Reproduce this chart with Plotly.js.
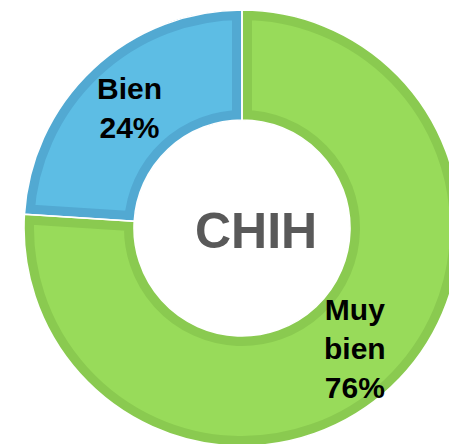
<!DOCTYPE html>
<html>
<head>
<meta charset="utf-8">
<script src="https://cdn.plot.ly/plotly-3.0.1.min.js"></script>
<style>
html,body{margin:0;padding:0;overflow:hidden;background:#fff;width:449px;height:444px;}
#chart{width:470px;height:460px;}
</style>
</head>
<body>
<div id="chart"></div>
<script>
// Data
const labels = ['Muy bien', 'Bien'];
const values = [76, 24];
const centerText = 'CHIH';

// Styles
const lightColors = ['#98DB5A', '#5DBDE4'];
const darkColors = ['#8ACA50', '#52A9D2'];
const W = 470, H = 460;
const cx = 242, cy = 228, R = 218, Rin = 108, band = 10;

function dom(r) {
  return {x: [(cx - r) / W, (cx + r) / W], y: [1 - (cy + r) / H, 1 - (cy - r) / H]};
}

const base = {
  type: 'pie', labels: labels, values: values, sort: false,
  direction: 'clockwise', rotation: 0,
  textinfo: 'none', hoverinfo: 'label+percent', showlegend: false,
  domain: dom(R), hole: Rin / R
};

const traces = [
  // fallback layers (visible if clipping unsupported): dark ring + inset light ring
  Object.assign({}, base, {marker: {colors: darkColors, line: {width: 0}}}),
  Object.assign({}, base, {domain: dom(R - band), hole: (Rin + band) / (R - band),
    marker: {colors: lightColors, line: {width: 0}}}),
  // main layer: light fill with dark inner border (stroke clipped to each slice)
  Object.assign({}, base, {marker: {colors: lightColors, line: {color: darkColors, width: band * 2}}}),
  // thin white separators
  Object.assign({}, base, {marker: {colors: ['rgba(0,0,0,0)', 'rgba(0,0,0,0)'], line: {color: '#ffffff', width: 1.6}}})
];

// Labels at slice mid-angles (clockwise from top)
const total = values.reduce((a, b) => a + b, 0);
const annotations = [];
let cum = 0;
const rMid = (R + Rin) / 2 + 2;
values.forEach((v, i) => {
  const mid = (cum + v / 2) / total * 2 * Math.PI;
  cum += v;
  const px = cx + rMid * Math.sin(mid);
  const py = cy - rMid * Math.cos(mid);
  const words = labels[i].split(' ');
  annotations.push({
    xref: 'paper', yref: 'paper', x: px / W, y: 1 - py / H,
    xanchor: 'center', yanchor: 'middle', showarrow: false,
    text: words.join('<br>') + '<br>' + Math.round(v / total * 100) + '%',
    font: {family: 'Liberation Sans, Arial, sans-serif', size: 30, color: '#000000', weight: 'bold'}
  });
});
annotations.push({
  xref: 'paper', yref: 'paper', x: 256 / W, y: 1 - 231 / H,
  xanchor: 'center', yanchor: 'middle', showarrow: false,
  text: centerText,
  font: {family: 'Liberation Sans, Arial, sans-serif', size: 50, color: '#595959', weight: 'bold'}
});

const layout = {
  width: W, height: H,
  margin: {l: 0, r: 0, t: 0, b: 0, pad: 0},
  paper_bgcolor: '#ffffff', plot_bgcolor: '#ffffff',
  annotations: annotations,
  showlegend: false
};

const gd = document.getElementById('chart');
Plotly.newPlot(gd, traces, layout, {displayModeBar: false, staticPlot: true}).then(function () {
  const NS = 'http://www.w3.org/2000/svg';
  const svg = gd.querySelector('svg.main-svg');
  let defs = svg.querySelector('defs');
  if (!defs) { defs = document.createElementNS(NS, 'defs'); svg.insertBefore(defs, svg.firstChild); }
  const pieTraces = gd.querySelectorAll('.pielayer .trace');
  const layer = pieTraces[2];
  if (!layer) return;
  layer.querySelectorAll('path.surface').forEach(function (p, k) {
    const d = p.getAttribute('d');
    if (!d) return;
    const cp = document.createElementNS(NS, 'clipPath');
    cp.setAttribute('id', 'sliceclip' + k);
    cp.setAttribute('clipPathUnits', 'userSpaceOnUse');
    const cpp = document.createElementNS(NS, 'path');
    cpp.setAttribute('d', d);
    const tr = p.getAttribute('transform');
    if (tr) cpp.setAttribute('transform', tr);
    cp.appendChild(cpp);
    defs.appendChild(cp);
    p.setAttribute('clip-path', 'url(#sliceclip' + k + ')');
  });
});
</script>
</body>
</html>
